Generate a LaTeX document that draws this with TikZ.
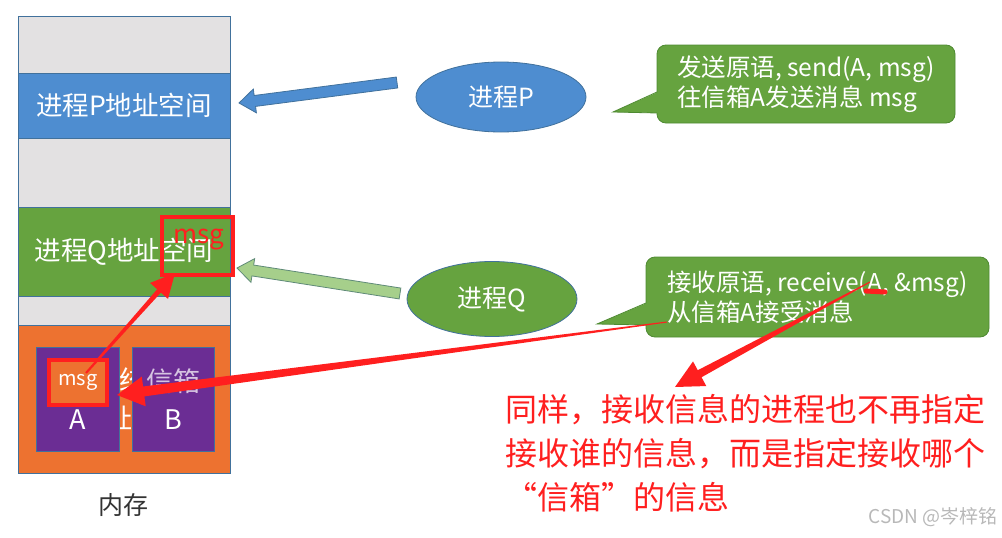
\documentclass[tikz,border=0pt]{standalone}
\usepackage{fontspec}
\setmainfont{Noto Sans CJK SC}
\usetikzlibrary{arrows.meta, positioning, shapes.geometric, calc}
\definecolor{cgray}{HTML}{E3E1E2}
\definecolor{cblue}{HTML}{4E8DD0}
\definecolor{cgreen}{HTML}{66A33F}
\definecolor{corange}{HTML}{ED7230}
\definecolor{cpurple}{HTML}{6B2D94}
\definecolor{cline}{HTML}{41719C}
\definecolor{cdkgreen}{HTML}{4E8A32}
\definecolor{clgreen}{HTML}{A6CF8B}
\definecolor{cgarrow}{HTML}{5F8A78}
\definecolor{cred}{HTML}{FF1F1F}
\tikzset{
  band/.style={draw=cline, line width=0.8pt, fill=#1, minimum width=212pt, inner sep=0pt, text=white, font=\fontsize{26.5}{30}\selectfont},
  band/.default=cgray,
  proc/.style={ellipse, draw=cline, line width=0.8pt, fill=#1, minimum width=170pt, text=white, font=\fontsize{25}{30}\selectfont},
  bubble/.style={draw=cdkgreen, fill=cgreen, rounded corners=9pt, line width=0.8pt, text=white, align=left, font=\fontsize{24.5}{30}\selectfont},
  mbox/.style={fill=cpurple, draw=cline, line width=0.6pt, minimum width=83pt, minimum height=104pt, text=white, align=center, font=\fontsize{27}{38}\selectfont},
  redframe/.style={draw=cred, line width=4pt, inner sep=0pt},
  ghost/.style={text=white, inner sep=0pt, font=\fontsize{27}{27}\selectfont},
  note/.style={text=cred, align=left, inner sep=0pt, font=\fontsize{32}{44}\selectfont},
}

\begin{document}
\begin{tikzpicture}[x=1pt, y=-1pt]
  \useasboundingbox (0,0) rectangle (1002,538);
  \node[band, minimum height=57pt] (top) at (124,44.5) {};
  \node[band=cblue, minimum height=65pt] (pspace) at (124,105.5) {进程P地址空间};
  \node[band, minimum height=69pt] (free1) at (124,172.5) {};
  \node[band=cgreen, minimum height=89pt] (qspace) at (124,251.5) {进程Q地址空间};
  \node[band, minimum height=29pt] (free2) at (124,310.5) {};
  \node[band=corange, minimum height=148pt] (kernel) at (124,399) {};
  \node[ghost] (ghosta) at (132.5,380) {统};
  \node[ghost] (ghostb) at (118.5,418) {址};
  \node[mbox] (boxa) at (77.5,399) {\phantom{信箱}\\A};
  \node[mbox, minimum width=82pt] (boxb) at (173,399) {\textcolor{white!72!cpurple}{信箱}\\B};
  \node[redframe, fill=corange, minimum width=58pt, minimum height=45pt, text=white, font=\fontsize{20}{20}\selectfont] (amsg) at (78,382.5) {msg};
  \node[redframe, minimum width=71pt, minimum height=58pt] (qmsg) at (197.5,246) {};
  \node[text=cred, inner sep=0pt, anchor=base, font=\fontsize{26}{26}\selectfont] (qmsgtext) at (199,243) {msg};
  \node[text=black!80, font=\fontsize{25}{25}\selectfont] (mem) at (123,505) {内存};

  \node[proc=cblue, minimum height=70pt] (pe) at (501,97) {进程P};
  \node[proc=cgreen, minimum height=75pt] (qe) at (492,299) {进程Q};

  \coordinate (pa) at (397,82.5);
  \coordinate (pb) at (239,103);
  \coordinate (qa) at (400,293.5);
  \coordinate (qb) at (237,268);
  \foreach \from/\to/\col/\edge in {pa/pb/cblue/cline, qa/qb/clgreen/cgarrow} {
    \coordinate (hb) at ($(\to)!16pt!(\from)$);
    \filldraw[fill=\col, draw=\edge, line width=0.8pt] ($(\from)!5.5pt!90:(\to)$) -- ($(hb)!5.5pt!90:(\to)$) -- ($(hb)!12pt!90:(\to)$) -- (\to)
      -- ($(hb)!12pt!-90:(\to)$) -- ($(hb)!5.5pt!-90:(\to)$) -- ($(\from)!5.5pt!-90:(\to)$) -- cycle;
  }

  \node[bubble, minimum width=298pt, minimum height=78pt] (psay) at (806,84) {发送原语, send(A, msg)\\往信箱A发送消息 msg};
  \node[bubble, minimum width=343pt, minimum height=80pt] (qsay) at (817.5,297) {接收原语, receive(A, \&msg)\\从信箱A接受消息};
  \coordinate (ptip) at (613,112);
  \coordinate (qtip) at (597,324);
  \foreach \say/\tip/\ya/\yb in {psay/ptip/8/29, qsay/qtip/6/28} {
    \fill[cgreen] ($(\say.west)+(1.5,\ya)$) -- (\tip) -- ($(\say.west)+(1.5,\yb)$) -- cycle;
    \draw[cdkgreen, line width=0.8pt] ($(\say.west)+(0.4,\ya)$) -- (\tip) -- ($(\say.west)+(0.4,\yb)$);
  }

  \node[note, anchor=west] (remark) at (505,453.5) {同样，接收信息的进程也不再指定\\接收谁的信息，而是指定接收哪个\\“信箱”的信息};
  \node[text=black!28, inner sep=0pt, anchor=east, font=\fontsize{19}{19}\selectfont] (mark) at (998,517) {CSDN @岑梓铭};

  \coordinate (ul1) at (866,291);
  \coordinate (ul2) at (885,292);
  \draw[cred, line width=5pt, line cap=round] (ul1) -- (ul2);
  \coordinate (r1a) at (86,373);
  \coordinate (r1b) at (175,273);
  \coordinate (r2a) at (667,322);
  \coordinate (r2b) at (117,395);
  \coordinate (r3a) at (870,282);
  \coordinate (r3b) at (675,387);
  \foreach \from/\to/\wa/\wb/\hl/\hw in {r1a/r1b/1/2.5/24/12, r2a/r2b/0.5/5/27/15, r3a/r3b/0.5/4/28/14} {
    \coordinate (hb) at ($(\to)!\hl pt!(\from)$);
    \fill[cred] ($(\from)!\wa pt!90:(\to)$) -- ($(hb)!\wb pt!90:(\to)$) -- ($(hb)!\hw pt!90:(\to)$) -- (\to)
      -- ($(hb)!\hw pt!-90:(\to)$) -- ($(hb)!\wb pt!-90:(\to)$) -- ($(\from)!\wa pt!-90:(\to)$) -- cycle;
  }
\end{tikzpicture}
\end{document}
